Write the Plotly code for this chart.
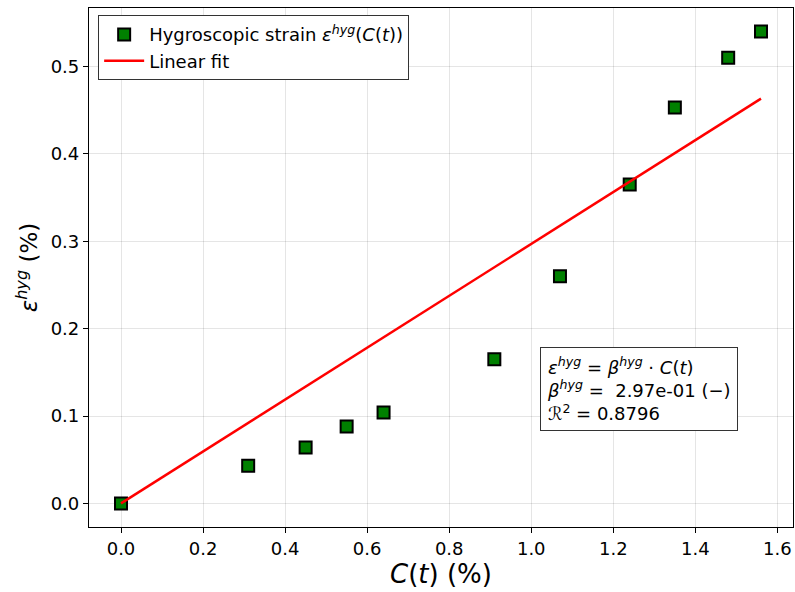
import plotly.graph_objects as go

# Data
c_t = [0.0, 0.31, 0.45, 0.55, 0.64, 0.91, 1.07, 1.24, 1.35, 1.48, 1.56]
eps_hyg = [0.0, 0.043, 0.064, 0.088, 0.104, 0.165, 0.260, 0.365, 0.453, 0.510, 0.540]
beta = 0.297
fit_x = [0.0, 1.56]
fit_y = [beta * v for v in fit_x]

x_ticks = [0.0, 0.2, 0.4, 0.6, 0.8, 1.0, 1.2, 1.4, 1.6]
y_ticks = [0.0, 0.1, 0.2, 0.3, 0.4, 0.5]

font_family = "DejaVu Sans"

fig = go.Figure()
fig.add_trace(go.Scatter(
    x=c_t, y=eps_hyg, mode="markers",
    name="Hygroscopic strain <i>ε</i><sup><i>hyg</i></sup>(<i>C</i>(<i>t</i>))",
    marker=dict(symbol="square", size=12, color="#008000",
                line=dict(color="black", width=2)),
    error_y=dict(type="data", array=[0]*len(c_t), visible=True,
                 color="black", thickness=1.5, width=4),
))
fig.add_trace(go.Scatter(
    x=fit_x, y=fit_y, mode="lines", name="Linear fit",
    line=dict(color="red", width=2.5),
))

fig.add_annotation(
    x=0.641, y=0.185, xref="paper", yref="paper", xanchor="left", yanchor="bottom",
    align="left", showarrow=False,
    text=("<i>ε</i><sup><i>hyg</i></sup> = <i>β</i><sup><i>hyg</i></sup> · <i>C</i>(<i>t</i>)<br>"
          "<i>β</i><sup><i>hyg</i></sup> =  2.97e-01 (−)<br>"
          "<i>ℛ</i><sup>2</sup> = 0.8796"),
    font=dict(family=font_family, size=18, color="black"),
    bordercolor="#333333", borderwidth=1, borderpad=6, bgcolor="white",
)

axis_common = dict(
    showline=True, linecolor="black", linewidth=1.2, mirror=True,
    ticks="outside", ticklen=5, tickcolor="black", tickwidth=1.2,
    showgrid=True, gridcolor="rgba(0,0,0,0.1)", gridwidth=1,
    zeroline=False,
    tickfont=dict(family=font_family, size=18, color="black"),
)

fig.update_layout(
    width=795, height=592,
    margin=dict(l=89, r=2, t=8, b=65),
    paper_bgcolor="white", plot_bgcolor="white",
    font=dict(family=font_family, color="black"),
    xaxis=dict(range=[-0.078, 1.638], tickvals=x_ticks,
               ticktext=[f"{v:.1f}" for v in x_ticks],
               title=dict(text="<i>C</i>(<i>t</i>) (%)",
                          font=dict(family=font_family, size=26), standoff=4),
               automargin=False, **axis_common),
    yaxis=dict(range=[-0.027, 0.567], tickvals=y_ticks,
               ticktext=[f"{v:.1f}" for v in y_ticks],
               title=dict(text="<i>ε</i><sup><i>hyg</i></sup> (%)",
                          font=dict(family=font_family, size=23), standoff=6),
               automargin=False, **axis_common),
    legend=dict(x=0.013, y=0.986, xanchor="left", yanchor="top",
                bgcolor="white", bordercolor="#333333", borderwidth=1,
                font=dict(family=font_family, size=18, color="black"),
                tracegroupgap=4, itemwidth=40),
    showlegend=True,
)

fig.write_html("out.html")
